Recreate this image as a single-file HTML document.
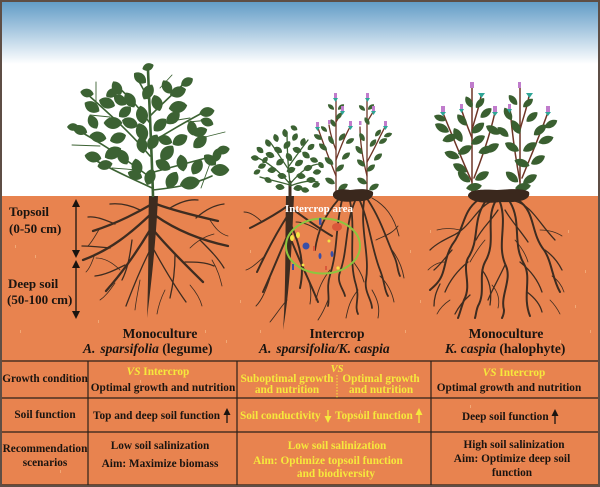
<!DOCTYPE html>
<html><head><meta charset="utf-8"><style>
html,body{margin:0;padding:0;background:#fff;}
svg{display:block;}
text{font-family:"Liberation Serif",serif;font-weight:bold;}
</style></head><body>
<svg width="600" height="487" viewBox="0 0 600 487" xmlns="http://www.w3.org/2000/svg">
<defs>
<linearGradient id="sky" x1="0" y1="0" x2="0" y2="1">
<stop offset="0" stop-color="#5e9ac5"/><stop offset="0.45" stop-color="#a5c6df"/><stop offset="1" stop-color="#ffffff"/>
</linearGradient>
<path id="L" d="M-8.5,0 C-4.5,-7.2 4.5,-7.2 8.5,0 C4.5,7.2 -4.5,7.2 -8.5,0Z"/>
<path id="K" d="M-8,0 C-4,-5.2 4,-5.2 8,0 C4,5.2 -4,5.2 -8,0Z"/>
</defs>
<rect x="0" y="0" width="600" height="487" fill="#fff"/>
<rect x="0" y="0" width="600" height="64" fill="url(#sky)"/>
<rect x="0" y="196" width="600" height="291" fill="#e8834f"/>
<!-- speckles -->
<g fill="#f4b27f" opacity="0.8">
<rect x="35" y="255" width="1" height="3"/><rect x="58" y="300" width="1" height="3"/><rect x="20" y="330" width="1" height="3"/><rect x="110" y="285" width="1" height="3"/><rect x="98" y="320" width="1" height="3"/><rect x="240" y="300" width="1" height="3"/><rect x="226" y="340" width="1" height="3"/><rect x="260" y="330" width="1" height="3"/><rect x="410" y="250" width="1" height="3"/><rect x="420" y="300" width="1" height="3"/><rect x="405" y="330" width="1" height="3"/><rect x="568" y="230" width="1" height="3"/><rect x="585" y="270" width="1" height="3"/><rect x="575" y="305" width="1" height="3"/><rect x="590" y="330" width="1" height="3"/><rect x="560" y="340" width="1" height="3"/><rect x="50" y="225" width="1" height="3"/><rect x="15" y="245" width="1" height="3"/><rect x="205" y="330" width="1" height="3"/><rect x="140" y="380" width="1" height="3"/><rect x="360" y="410" width="1" height="3"/><rect x="520" y="460" width="1" height="3"/><rect x="60" y="470" width="1" height="3"/><rect x="300" y="470" width="1" height="3"/><rect x="470" y="405" width="1" height="3"/><rect x="30" y="415" width="1" height="3"/><rect x="430" y="230" width="1" height="3"/><rect x="250" y="250" width="1" height="3"/>
</g>

<!-- ===== Plant 1 roots ===== -->
<g stroke="#3e2c20" fill="none" stroke-linecap="round">
<path d="M149,196 L158,196 C157,222 154,262 147,318 C149,262 148,225 149,196Z" fill="#3e2c20" stroke="none"/>
<g stroke-width="2.3">
<path d="M152,204 C135,214 115,224 93,231"/>
<path d="M151,214 C130,234 110,250 83,260"/>
<path d="M150,230 C135,255 122,273 106,291"/>
<path d="M156,204 C175,211 196,216 218,221"/>
<path d="M156,216 C176,230 200,240 228,246"/>
<path d="M155,232 C170,250 186,265 203,282"/>
</g>
<g stroke-width="1.3">
<path d="M150,250 C140,270 132,290 126,306"/>
<path d="M154,250 C165,270 176,288 186,302"/>
<path d="M115,224 C105,220 96,216 88,217"/>
<path d="M110,248 C100,247 90,246 82,246"/>
<path d="M125,265 C115,270 105,275 95,276"/>
<path d="M196,218 C205,210 215,205 224,204"/>
<path d="M200,240 C210,250 218,258 224,268"/>
<path d="M185,262 C195,262 205,262 214,266"/>
<path d="M175,255 C175,270 173,285 170,298"/>
<path d="M132,240 C130,255 128,268 122,280"/>
<path d="M140,210 C130,205 120,203 110,204"/>
<path d="M170,208 C180,202 190,199 198,200"/>
</g>
<g stroke-width="0.8">
<path d="M100,228 C95,236 92,242 88,246"/>
<path d="M95,254 C92,262 90,268 86,272"/>
<path d="M115,283 C110,290 106,296 100,300"/>
<path d="M210,220 C215,228 220,234 228,236"/>
<path d="M212,260 C218,270 220,278 222,286"/>
<path d="M165,290 C160,300 158,308 157,314"/>
<path d="M140,280 C138,292 136,300 135,310"/>
<path d="M190,285 C196,292 200,298 202,306"/>
<path d="M120,270 C112,262 104,258 96,258"/>
<path d="M190,248 C198,240 206,236 214,234"/>
</g>
</g>

<!-- ===== Plant 1 shoots ===== -->
<g stroke="#3c6233" fill="none" stroke-linecap="round">
<path d="M153,196 C152,160 150,120 148,70" stroke-width="2.6"/>
<g stroke-width="1.6">
<path d="M151,178 C130,162 100,142 72,127"/>
<path d="M150,156 C130,132 105,110 86,93"/>
<path d="M149,122 C140,108 128,96 117,86"/>
<path d="M149,100 C145,92 141,85 137,78"/>
<path d="M154,172 C175,166 200,160 224,153"/>
<path d="M152,142 C170,131 190,119 208,110"/>
<path d="M150,116 C165,101 177,90 188,80"/>
<path d="M153,190 C170,188 190,186 212,176"/>
<path d="M152,188 C135,180 112,170 95,160"/>
</g>
<g stroke-width="0.9">
<path d="M96,112 L96,82"/><path d="M72,145 L100,146"/><path d="M112,168 L138,170"/><path d="M165,122 L190,118"/><path d="M188,122 L210,120"/><path d="M201,188 L212,158"/><path d="M205,137 L225,132"/><path d="M160,88 L172,75"/><path d="M90,115 L110,117"/>
</g>
</g>
<g fill="#3c6233">
<use href="#L" transform="translate(148 67) rotate(-20) scale(0.7)"/>
<use href="#L" transform="translate(140 78) rotate(40) scale(0.9)"/>
<use href="#L" transform="translate(148 92) rotate(-60)"/>
<use href="#L" transform="translate(130 100) rotate(60)"/>
<use href="#L" transform="translate(120 100) rotate(40) scale(0.9)"/>
<use href="#L" transform="translate(107 103) rotate(20)"/>
<use href="#L" transform="translate(92 107) rotate(30)"/>
<use href="#L" transform="translate(87 93) rotate(10) scale(0.8)"/>
<use href="#L" transform="translate(117 88) rotate(60) scale(0.9)"/>
<use href="#L" transform="translate(112 93) rotate(-30) scale(0.8)"/>
<use href="#L" transform="translate(157 103) rotate(70)"/>
<use href="#L" transform="translate(167 87) rotate(60) scale(0.9)"/>
<use href="#L" transform="translate(178 92) rotate(-20)"/>
<use href="#L" transform="translate(187 82) rotate(-30) scale(0.8)"/>
<use href="#L" transform="translate(178 107) rotate(-10) scale(1.1)"/>
<use href="#L" transform="translate(173 118) rotate(-40)"/>
<use href="#L" transform="translate(142 115) rotate(80) scale(1.1)"/>
<use href="#L" transform="translate(142 132) rotate(70) scale(1.1)"/>
<use href="#L" transform="translate(130 123) rotate(20)"/>
<use href="#L" transform="translate(113 123) rotate(0) scale(1.1)"/>
<use href="#L" transform="translate(93 122) rotate(60) scale(0.9)"/>
<use href="#L" transform="translate(80 130) rotate(20) scale(0.9)"/>
<use href="#L" transform="translate(73 127) rotate(0) scale(0.7)"/>
<use href="#L" transform="translate(98 137) rotate(10)"/>
<use href="#L" transform="translate(118 138) rotate(-20)"/>
<use href="#L" transform="translate(113 153) rotate(-30) scale(1.1)"/>
<use href="#L" transform="translate(93 157) rotate(10)"/>
<use href="#L" transform="translate(123 157) rotate(60)"/>
<use href="#L" transform="translate(142 145) rotate(80)"/>
<use href="#L" transform="translate(153 142) rotate(-60)"/>
<use href="#L" transform="translate(167 153) rotate(-50) scale(1.1)"/>
<use href="#L" transform="translate(180 140) rotate(-30)"/>
<use href="#L" transform="translate(200 132) rotate(-20) scale(0.9)"/>
<use href="#L" transform="translate(192 128) rotate(80) scale(0.9)"/>
<use href="#L" transform="translate(207 112) rotate(-10) scale(0.9)"/>
<use href="#L" transform="translate(207 122) rotate(20) scale(0.8)"/>
<use href="#L" transform="translate(200 142) rotate(-40)"/>
<use href="#L" transform="translate(217 155) rotate(-80) scale(0.8)"/>
<use href="#L" transform="translate(223 150) rotate(-10) scale(0.8)"/>
<use href="#L" transform="translate(220 170) rotate(0) scale(1.1)"/>
<use href="#L" transform="translate(197 167) rotate(-60)"/>
<use href="#L" transform="translate(190 183) rotate(-10) scale(1.2)"/>
<use href="#L" transform="translate(172 180) rotate(-60) scale(1.1)"/>
<use href="#L" transform="translate(137 167) rotate(80)"/>
<use href="#L" transform="translate(135 175) rotate(20) scale(0.9)"/>
<use href="#L" transform="translate(150 177) rotate(-70)"/>
<use href="#L" transform="translate(182 163) rotate(80)"/>
<use href="#L" transform="translate(160 125) rotate(-45)"/>
<use href="#L" transform="translate(163 165) rotate(30)"/>
<use href="#L" transform="translate(105 165) rotate(-10) scale(0.9)"/>
<use href="#L" transform="translate(125 112) rotate(-40) scale(0.9)"/>
<use href="#L" transform="translate(165 140) rotate(20) scale(0.9)"/>
<use href="#L" transform="translate(210 160) rotate(40) scale(0.9)"/>
</g>

<!-- ===== Intercrop roots ===== -->
<g stroke="#3e2c20" fill="none" stroke-linecap="round">
<path d="M286,196 L294,196 C292,240 290,290 283,330 C286,290 285,240 286,196Z" fill="#3e2c20" stroke="none"/>
<g stroke-width="2">
<path d="M289,205 C275,215 262,222 250,228"/>
<path d="M288,215 C275,235 265,255 257,272"/>
<path d="M289,232 C280,252 271,275 263,292"/>
<path d="M291,208 C305,218 318,228 332,236"/>
<path d="M291,225 C300,245 305,265 300,288"/>
<path d="M292,242 C300,262 310,282 318,302"/>
</g>
<g stroke-width="1.8">
<path d="M342,200 C335,230 338,250 330,275 C326,288 330,296 328,306"/>
<path d="M350,201 C356,230 348,260 356,285 C360,298 354,306 358,314"/>
<path d="M360,201 C370,225 372,250 380,270 C385,282 384,290 388,296"/>
<path d="M368,200 C381,220 386,238 394,256 C398,264 397,270 400,276"/>
<path d="M364,201 C360,230 370,255 366,280 C364,292 372,300 372,308"/>
<path d="M355,201 C345,225 348,250 340,272 C336,282 344,290 345,296"/>
<path d="M338,200 C325,215 318,230 315,250"/>
</g>
<g stroke-width="0.9">
<path d="M372,198 C385,205 394,216 399,236"/>
<path d="M262,222 C256,216 250,212 244,212"/>
<path d="M265,256 C258,262 252,268 246,270"/>
<path d="M270,278 C266,290 262,300 256,306"/>
<path d="M304,270 C310,280 312,292 310,304"/>
<path d="M330,270 C322,280 318,290 316,300"/>
<path d="M380,276 C388,284 392,292 394,302"/>
<path d="M392,250 C398,258 402,266 404,278"/>
<path d="M358,290 C350,300 348,308 346,318"/>
<path d="M372,290 C378,300 380,308 378,318"/>
<path d="M328,300 C325,308 322,314 318,320"/>
<path d="M318,230 C310,225 302,222 296,222"/>
<path d="M287,300 C280,308 275,316 270,322"/>
<path d="M376,240 C384,236 392,234 398,226"/>
<path d="M352,260 C358,268 362,274 364,282"/>
</g>
</g>
<!-- intercrop area markers -->
<ellipse cx="323" cy="246" rx="37" ry="27.5" fill="none" stroke="#8cc63f" stroke-width="2"/>
<g>
<ellipse cx="292" cy="238" rx="2" ry="3" fill="#f3e445"/>
<ellipse cx="298" cy="235" rx="2" ry="3" fill="#f3e445"/>
<circle cx="329" cy="241" r="1.5" fill="#f3e445"/>
<circle cx="338" cy="268" r="1.6" fill="#f3e445"/>
<circle cx="303" cy="265" r="1.4" fill="#f3e445"/>
<rect x="319" y="218" width="2.5" height="7" rx="1" fill="#3a4fa8"/>
<circle cx="306" cy="246" r="3.5" fill="#3a4fa8"/>
<ellipse cx="320" cy="256" rx="1.5" ry="3" fill="#3a4fa8"/>
<ellipse cx="332" cy="254" rx="1.5" ry="3" fill="#3a4fa8"/>
<rect x="292" y="264" width="2" height="6" fill="#3a4fa8"/>
<ellipse cx="337" cy="227" rx="5" ry="4" fill="#d9573a"/>
<rect x="313" y="246" width="2" height="5" fill="#d9573a"/>
<rect x="325" y="266" width="2" height="4" fill="#d9573a"/>
</g>
<text x="319" y="212" font-size="11" fill="#ffffff" text-anchor="middle">Intercrop area</text>

<!-- ===== Plant 2 small legume ===== -->
<g stroke="#3c6233" fill="none" stroke-linecap="round" stroke-width="1.3">
<path d="M290,196 L290,182" stroke="#3e2c20" stroke-width="3"/>
<path d="M290,184 C280,172 268,162 254,156"/>
<path d="M290,184 C288,166 287,150 287,132"/>
<path d="M290,184 C300,172 310,164 320,164"/>
<path d="M290,186 C300,182 310,180 318,182"/>
<path d="M290,185 C280,182 270,180 260,177"/>
<path d="M289,170 C282,160 276,150 270,142"/>
<path d="M289,166 C296,156 302,148 308,140"/>
</g>
<g fill="#3c6233">
<use href="#L" transform="translate(255 158) rotate(10) scale(0.5)"/>
<use href="#L" transform="translate(260 150) rotate(40) scale(0.5)"/>
<use href="#L" transform="translate(262 166) rotate(-20) scale(0.5)"/>
<use href="#L" transform="translate(268 143) rotate(60) scale(0.5)"/>
<use href="#L" transform="translate(270 155) rotate(20) scale(0.55)"/>
<use href="#L" transform="translate(272 170) rotate(-10) scale(0.55)"/>
<use href="#L" transform="translate(276 138) rotate(70) scale(0.5)"/>
<use href="#L" transform="translate(278 150) rotate(30) scale(0.55)"/>
<use href="#L" transform="translate(280 162) rotate(-40) scale(0.55)"/>
<use href="#L" transform="translate(282 176) rotate(10) scale(0.55)"/>
<use href="#L" transform="translate(285 133) rotate(80) scale(0.5)"/>
<use href="#L" transform="translate(287 145) rotate(-50) scale(0.55)"/>
<use href="#L" transform="translate(289 157) rotate(60) scale(0.55)"/>
<use href="#L" transform="translate(291 170) rotate(-20) scale(0.55)"/>
<use href="#L" transform="translate(295 137) rotate(-60) scale(0.5)"/>
<use href="#L" transform="translate(297 150) rotate(20) scale(0.55)"/>
<use href="#L" transform="translate(299 163) rotate(-30) scale(0.55)"/>
<use href="#L" transform="translate(301 176) rotate(10) scale(0.55)"/>
<use href="#L" transform="translate(303 142) rotate(-70) scale(0.5)"/>
<use href="#L" transform="translate(306 155) rotate(40) scale(0.55)"/>
<use href="#L" transform="translate(308 168) rotate(-20) scale(0.55)"/>
<use href="#L" transform="translate(311 180) rotate(0) scale(0.55)"/>
<use href="#L" transform="translate(311 147) rotate(-40) scale(0.5)"/>
<use href="#L" transform="translate(314 160) rotate(20) scale(0.5)"/>
<use href="#L" transform="translate(317 172) rotate(-10) scale(0.5)"/>
<use href="#L" transform="translate(321 165) rotate(50) scale(0.45)"/>
<use href="#L" transform="translate(298 188) rotate(-10) scale(0.55)"/>
<use href="#L" transform="translate(280 187) rotate(10) scale(0.55)"/>
<use href="#L" transform="translate(268 180) rotate(30) scale(0.5)"/>
<use href="#L" transform="translate(316 185) rotate(-20) scale(0.5)"/>
<use href="#L" transform="translate(305 190) rotate(10) scale(0.5)"/>
<use href="#L" transform="translate(257 172) rotate(-30) scale(0.45)"/>
<use href="#L" transform="translate(265 160) rotate(-50) scale(0.45)"/>
<use href="#L" transform="translate(294 128) rotate(30) scale(0.45)"/>
</g>

<!-- ===== Plant 3 K. caspia (intercrop) ===== -->
<g stroke="#6e3526" fill="none" stroke-linecap="round" stroke-width="1.3">
<path d="M336,193 L336,100"/>
<path d="M336,176 C328,156 322,140 318,128"/>
<path d="M336,160 C341,146 346,134 350,127"/>
<path d="M336,150 C332,140 330,132 329,125"/>
<path d="M336,122 L342,112"/>
<path d="M367,193 L367,100"/>
<path d="M367,176 C362,156 360,140 360,127"/>
<path d="M367,162 C375,148 380,136 385,127"/>
<path d="M367,122 L373,112"/>
</g>
<g fill="#3c6233">
<use href="#K" transform="translate(330 181) rotate(30) scale(0.7)"/>
<use href="#K" transform="translate(343 187) rotate(-30) scale(0.7)"/>
<use href="#K" transform="translate(340 168) rotate(-40) scale(0.65)"/>
<use href="#K" transform="translate(329 161) rotate(40) scale(0.7)"/>
<use href="#K" transform="translate(346 156) rotate(-40) scale(0.65)"/>
<use href="#K" transform="translate(323 147) rotate(40) scale(0.65)"/>
<use href="#K" transform="translate(331 140) rotate(60) scale(0.6)"/>
<use href="#K" transform="translate(342 137) rotate(-50) scale(0.6)"/>
<use href="#K" transform="translate(350 141) rotate(-30) scale(0.6)"/>
<use href="#K" transform="translate(318 137) rotate(30) scale(0.6)"/>
<use href="#K" transform="translate(333 123) rotate(60) scale(0.55)"/>
<use href="#K" transform="translate(339 116) rotate(-50) scale(0.55)"/>
<use href="#K" transform="translate(331 107) rotate(40) scale(0.5)"/>
<use href="#K" transform="translate(341 107) rotate(-40) scale(0.5)"/>
<use href="#K" transform="translate(324 129) rotate(40) scale(0.5)"/>
<use href="#K" transform="translate(362 181) rotate(30) scale(0.7)"/>
<use href="#K" transform="translate(374 187) rotate(-30) scale(0.7)"/>
<use href="#K" transform="translate(371 168) rotate(-40) scale(0.65)"/>
<use href="#K" transform="translate(361 163) rotate(40) scale(0.65)"/>
<use href="#K" transform="translate(378 157) rotate(-40) scale(0.65)"/>
<use href="#K" transform="translate(359 150) rotate(50) scale(0.65)"/>
<use href="#K" transform="translate(373 143) rotate(-50) scale(0.6)"/>
<use href="#K" transform="translate(383 141) rotate(-30) scale(0.6)"/>
<use href="#K" transform="translate(362 137) rotate(60) scale(0.6)"/>
<use href="#K" transform="translate(378 133) rotate(-50) scale(0.55)"/>
<use href="#K" transform="translate(388 135) rotate(-20) scale(0.55)"/>
<use href="#K" transform="translate(367 121) rotate(60) scale(0.55)"/>
<use href="#K" transform="translate(362 108) rotate(40) scale(0.5)"/>
<use href="#K" transform="translate(371 107) rotate(-40) scale(0.5)"/>
</g>
<g>
<rect x="334" y="93" width="3" height="5" fill="#c07ccc"/><path d="M333,98 L338,98 L335.5,102Z" fill="#2ea596"/>
<rect x="366" y="93" width="3" height="5" fill="#c07ccc"/><path d="M365,98 L370,98 L367.5,102Z" fill="#2ea596"/>
<rect x="341" y="106" width="3" height="5" fill="#c07ccc"/><path d="M340,111 L345,111 L342.5,115Z" fill="#2ea596"/>
<rect x="372" y="106" width="3" height="5" fill="#c07ccc"/><path d="M371,111 L376,111 L373.5,115Z" fill="#2ea596"/>
<rect x="316" y="122" width="3" height="5" fill="#c07ccc"/><path d="M315,127 L320,127 L317.5,131Z" fill="#2ea596"/>
<rect x="328" y="120" width="2.5" height="4" fill="#c07ccc"/>
<rect x="349" y="121" width="3" height="5" fill="#c07ccc"/><path d="M348,126 L353,126 L350.5,130Z" fill="#2ea596"/>
<rect x="359" y="121" width="2.5" height="4" fill="#c07ccc"/>
<rect x="384" y="121" width="3" height="5" fill="#c07ccc"/><path d="M383,126 L388,126 L385.5,130Z" fill="#2ea596"/>
</g>
<path d="M333,196 C332,190 340,188 350,190 C358,189 368,188 373,192 C374,198 368,202 355,201 C345,203 335,201 333,196Z" fill="#3a281d"/>

<!-- ===== Plant 4 K. caspia mono ===== -->
<g stroke="#3e2c20" fill="none" stroke-linecap="round">
<g stroke-width="2">
<path d="M478,200 C462,212 465,228 452,245 C444,258 446,272 438,282 C435,286 432,288 430,290"/>
<path d="M485,202 C472,222 480,240 468,258 C462,270 472,285 464,300 C461,308 460,313 458,318"/>
<path d="M495,202 C485,222 497,242 485,262 C478,276 486,292 478,306 C476,311 476,315 475,318"/>
<path d="M500,202 C508,225 496,245 506,266 C512,280 500,296 504,310 C504,314 503,316 502,318"/>
<path d="M510,202 C522,222 512,244 524,264 C532,278 522,296 530,316"/>
<path d="M518,200 C536,212 530,232 544,250 C552,262 552,278 560,292"/>
</g>
<g stroke-width="1.3">
<path d="M490,202 C475,210 470,228 452,236 C444,240 436,244 430,250"/>
<path d="M515,201 C532,206 538,222 555,240"/>
<path d="M452,250 C445,258 440,265 434,270"/>
<path d="M468,262 C458,270 450,280 445,292"/>
<path d="M482,270 C490,280 492,292 490,305"/>
<path d="M505,265 C498,280 492,290 488,300"/>
<path d="M520,262 C530,270 538,280 542,292"/>
<path d="M545,250 C552,255 558,262 562,270"/>
<path d="M498,210 C490,222 482,228 476,240"/>
<path d="M505,210 C512,222 520,230 528,242"/>
<path d="M440,284 C436,292 434,298 434,306"/>
<path d="M470,295 C462,302 458,308 455,314"/>
<path d="M527,292 C535,298 540,304 542,312"/>
</g>
<g stroke-width="0.8">
<path d="M460,230 C452,228 444,228 437,230"/>
<path d="M540,230 C548,230 556,232 562,236"/>
<path d="M485,240 C478,248 474,255 470,262"/>
<path d="M515,240 C522,248 526,255 528,262"/>
<path d="M450,300 C444,304 440,308 437,314"/>
<path d="M550,300 C555,305 558,310 560,314"/>
<path d="M445,262 C438,262 432,266 428,270"/>
<path d="M552,276 C558,280 562,286 564,292"/>
<path d="M492,285 C498,292 500,300 498,308"/>
</g>
</g>
<g stroke="#6e3526" fill="none" stroke-linecap="round" stroke-width="1.5">
<path d="M472,193 L472,88"/>
<path d="M472,182 C462,160 452,135 443,113"/>
<path d="M474,178 C482,158 490,135 495,112"/>
<path d="M472,130 C475,118 479,108 481,96"/>
<path d="M472,138 C468,128 464,118 461,108"/>
<path d="M520,193 L520,88"/>
<path d="M520,182 C516,160 512,135 510,107"/>
<path d="M522,178 C530,158 540,135 548,112"/>
<path d="M520,130 C523,118 527,108 529,96"/>
</g>
<g fill="#3a5f30">
<use href="#K" transform="translate(442 128) rotate(30)"/>
<use href="#K" transform="translate(450 138) rotate(-20)"/>
<use href="#K" transform="translate(458 135) rotate(60)"/>
<use href="#K" transform="translate(452 155) rotate(20)"/>
<use href="#K" transform="translate(465 150) rotate(-30)"/>
<use href="#K" transform="translate(460 168) rotate(30)"/>
<use href="#K" transform="translate(478 140) rotate(-30)"/>
<use href="#K" transform="translate(486 150) rotate(-20)"/>
<use href="#K" transform="translate(478 128) rotate(-40)"/>
<use href="#K" transform="translate(493 130) rotate(30)"/>
<use href="#K" transform="translate(492 148) rotate(-30)"/>
<use href="#K" transform="translate(464 177) rotate(40)"/>
<use href="#K" transform="translate(482 176) rotate(-30)"/>
<use href="#K" transform="translate(474 187) rotate(-10)"/>
<use href="#K" transform="translate(469 102) rotate(60) scale(0.8)"/>
<use href="#K" transform="translate(480 103) rotate(-50) scale(0.8)"/>
<use href="#K" transform="translate(462 120) rotate(50) scale(0.9)"/>
<use href="#K" transform="translate(486 113) rotate(-40) scale(0.9)"/>
<use href="#K" transform="translate(440 118) rotate(20) scale(0.8)"/>
<use href="#K" transform="translate(513 100) rotate(50) scale(0.8)"/>
<use href="#K" transform="translate(528 103) rotate(-40) scale(0.8)"/>
<use href="#K" transform="translate(508 114) rotate(60) scale(0.9)"/>
<use href="#K" transform="translate(532 117) rotate(-40) scale(0.9)"/>
<use href="#K" transform="translate(516 127) rotate(60)"/>
<use href="#K" transform="translate(540 130) rotate(-40)"/>
<use href="#K" transform="translate(512 147) rotate(30)"/>
<use href="#K" transform="translate(530 147) rotate(-30)"/>
<use href="#K" transform="translate(546 140) rotate(-20)"/>
<use href="#K" transform="translate(522 163) rotate(20)"/>
<use href="#K" transform="translate(538 160) rotate(-30)"/>
<use href="#K" transform="translate(512 177) rotate(40)"/>
<use href="#K" transform="translate(530 179) rotate(-30)"/>
<use href="#K" transform="translate(523 187) rotate(-10)"/>
<use href="#K" transform="translate(551 124) rotate(-30) scale(0.9)"/>
<use href="#K" transform="translate(503 132) rotate(40) scale(0.9)"/>
</g>
<g>
<rect x="470" y="82" width="4" height="6" fill="#c07ccc"/>
<rect x="518" y="82" width="3" height="6" fill="#c07ccc"/>
<path d="M478,93 L485,93 L481.5,98Z" fill="#2ea596"/>
<path d="M526,93 L533,93 L529.5,98Z" fill="#2ea596"/>
<rect x="441" y="106" width="4" height="6" fill="#c07ccc"/><path d="M440,112 L446,112 L443,116Z" fill="#2ea596"/>
<rect x="460" y="104" width="3" height="5" fill="#c07ccc"/><path d="M459,109 L464,109 L461.5,113Z" fill="#2ea596"/>
<rect x="493" y="106" width="4" height="6" fill="#c07ccc"/><path d="M492,112 L498,112 L495,116Z" fill="#2ea596"/>
<rect x="508" y="104" width="3" height="5" fill="#c07ccc"/><path d="M507,109 L512,109 L509.5,113Z" fill="#2ea596"/>
<rect x="546" y="106" width="4" height="6" fill="#c07ccc"/><path d="M545,112 L551,112 L548,116Z" fill="#2ea596"/>
</g>
<path d="M468,196 C468,190 480,189 497,190 C510,189 524,188 529,192 C531,199 522,203 500,202 C485,204 470,202 468,196Z" fill="#3a281d"/>

<!-- ===== Left depth labels ===== -->
<g fill="#1a1410" font-size="13">
<text x="9" y="216">Topsoil</text>
<text x="9" y="233">(0-50 cm)</text>
<text x="8" y="288">Deep soil</text>
<text x="7" y="304">(50-100 cm)</text>
</g>
<g stroke="#1a1410" stroke-width="1.3">
<line x1="76" y1="205" x2="76" y2="252"/>
<line x1="76" y1="266" x2="76" y2="313"/>
</g>
<g fill="#1a1410">
<path d="M72,207 L76,199 L80,207Z"/><path d="M72,250 L76,258 L80,250Z"/>
<path d="M72,268 L76,260 L80,268Z"/><path d="M72,311 L76,319 L80,311Z"/>
</g>

<!-- ===== Column headings ===== -->
<g fill="#1a1410" font-size="13.5">
<text x="160" y="338" text-anchor="middle">Monoculture</text>
<text x="83" y="353"><tspan font-style="italic">A.</tspan><tspan font-style="italic" dx="5">sparsifolia</tspan> (legume)</text>
<text x="337" y="338" text-anchor="middle">Intercrop</text>
<text x="259" y="353" font-style="italic">A.<tspan dx="5">sparsifolia/K. caspia</tspan></text>
<text x="506" y="338" text-anchor="middle">Monoculture</text>
<text x="445" y="353"><tspan font-style="italic">K. caspia</tspan> (halophyte)</text>
</g>

<!-- ===== Table ===== -->
<g stroke="#2b2019" stroke-width="1.2" fill="none">
<line x1="1" y1="361" x2="599" y2="361"/>
<line x1="1" y1="398" x2="599" y2="398"/>
<line x1="1" y1="432" x2="599" y2="432"/>
<line x1="1" y1="485" x2="599" y2="485"/>
<line x1="88" y1="361" x2="88" y2="485"/>
<line x1="237" y1="361" x2="237" y2="485"/>
<line x1="431" y1="361" x2="431" y2="485"/>
</g>
<g font-size="11.3" fill="#1a1410" text-anchor="middle">
<text x="45" y="382">Growth condition</text>
<text x="45" y="418">Soil function</text>
<text x="45" y="452">Recommendation</text>
<text x="45" y="466">scenarios</text>
</g>
<!-- col 1 -->
<text x="158" y="375" font-size="11.3" fill="#f6e93c" text-anchor="middle"><tspan font-style="italic">VS</tspan>  Intercrop</text>
<g font-size="11.3" fill="#1a1410">
<text x="163" y="391" text-anchor="middle">Optimal growth and nutrition</text>
<text x="93" y="419">Top and deep soil function</text>
<text x="160" y="449" text-anchor="middle">Low soil salinization</text>
<text x="160" y="467" text-anchor="middle">Aim: Maximize biomass</text>
</g>
<line x1="227" y1="423" x2="227" y2="413" stroke="#1a1410" stroke-width="1.3"/>
<path d="M223.5,415 L227,408 L230.5,415Z" fill="#1a1410"/>
<!-- col 2 -->
<g font-size="11.3" fill="#f6e93c">
<text x="337" y="372" font-size="10.5" font-style="italic" text-anchor="middle">VS</text>
<text x="287" y="382" text-anchor="middle">Suboptimal growth</text>
<text x="287" y="393" text-anchor="middle">and nutrition</text>
<text x="381" y="382" text-anchor="middle">Optimal growth</text>
<text x="381" y="393" text-anchor="middle">and nutrition</text>
<text x="240" y="419">Soil conductivity</text>
<text x="335" y="419">Topsoil function</text>
<text x="337" y="449" text-anchor="middle">Low soil salinization</text>
<text x="328" y="464" text-anchor="middle">Aim: Optimize topsoil function</text>
<text x="336" y="477" text-anchor="middle">and biodiversity</text>
</g>
<line x1="337" y1="375" x2="337" y2="398" stroke="#f6e93c" stroke-width="1" stroke-dasharray="1.5 1.5"/>
<line x1="328" y1="410" x2="328" y2="418" stroke="#f6e93c" stroke-width="1.3"/>
<path d="M324.5,416 L328,423 L331.5,416Z" fill="#f6e93c"/>
<line x1="419" y1="423" x2="419" y2="413" stroke="#f6e93c" stroke-width="1.3"/>
<path d="M415.5,415 L419,408 L422.5,415Z" fill="#f6e93c"/>
<!-- col 3 -->
<text x="514" y="376" font-size="11.3" fill="#f6e93c" text-anchor="middle"><tspan font-style="italic">VS</tspan>  Intercrop</text>
<g font-size="11.3" fill="#1a1410">
<text x="509" y="391" text-anchor="middle">Optimal growth and nutrition</text>
<text x="462" y="420">Deep soil function</text>
<text x="514" y="448" text-anchor="middle">High soil salinization</text>
<text x="512" y="462" text-anchor="middle">Aim: Optimize deep soil</text>
<text x="512" y="476" text-anchor="middle">function</text>
</g>
<line x1="555" y1="424" x2="555" y2="414" stroke="#1a1410" stroke-width="1.3"/>
<path d="M551.5,416 L555,409 L558.5,416Z" fill="#1a1410"/>

<!-- border -->
<rect x="1" y="1" width="598" height="485" fill="none" stroke="#5e4e45" stroke-width="2"/>
</svg>
</body></html>
